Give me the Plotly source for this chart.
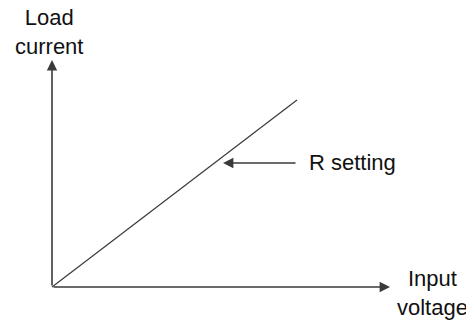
"""Sketch of load current against input voltage for one R setting."""
import plotly.graph_objects as go

# Characteristic line (arbitrary units, origin at the axes corner)
input_voltage = [0, 245]
load_current = [0, 187]

# Axis extents and the label pointer
axis_x_end = 338
axis_y_end = 227
pointer_y = 124
pointer_from = 245
pointer_to = 171

x_title = "Input<br>voltage"
y_title = "Load<br>current"
line_label = "R setting"

ink = "#3a3a3a"
text_font = dict(family="Liberation Sans, Arial, sans-serif", size=22, color="#111111")

fig = go.Figure()

# The characteristic itself
fig.add_trace(go.Scatter(x=input_voltage, y=load_current, mode="lines",
                         line=dict(color=ink, width=1.2), hoverinfo="skip"))

# Axes drawn as arrows from the origin
fig.add_annotation(x=axis_x_end, y=0, ax=0, ay=0, xref="x", yref="y",
                   axref="x", ayref="y", showarrow=True, arrowhead=2,
                   arrowsize=1.3, arrowwidth=1.6, arrowcolor=ink, text="")
fig.add_annotation(x=0, y=axis_y_end, ax=0, ay=0, xref="x", yref="y",
                   axref="x", ayref="y", showarrow=True, arrowhead=2,
                   arrowsize=1.3, arrowwidth=1.6, arrowcolor=ink, text="")

# Pointer to the line
fig.add_annotation(x=pointer_to, y=pointer_y, ax=pointer_from, ay=pointer_y,
                   xref="x", yref="y", axref="x", ayref="y", showarrow=True,
                   arrowhead=2, arrowsize=1.3, arrowwidth=1.6, arrowcolor=ink, text="")
fig.add_annotation(x=pointer_from + 10, y=pointer_y + 1, xref="x", yref="y",
                   text=line_label, showarrow=False, xanchor="left",
                   yanchor="middle", font=text_font)

# Axis titles
fig.add_annotation(x=-3, y=255, xref="x", yref="y", text=y_title,
                   showarrow=False, xanchor="center", yanchor="middle",
                   align="center", borderpad=0, font=text_font)
fig.add_annotation(x=380, y=-6, xref="x", yref="y", text=x_title,
                   showarrow=False, xanchor="center", yanchor="middle",
                   align="center", borderpad=0, font=text_font)

# the page body keeps an 8px margin, so the figure is drawn 8px smaller
fig.update_xaxes(range=[-44, 422], visible=False)
fig.update_yaxes(range=[-35, 279], visible=False)
fig.update_layout(width=466, height=314, margin=dict(l=0, r=0, t=0, b=0),
                  plot_bgcolor="white", paper_bgcolor="white", showlegend=False)

fig.write_html("out.html")
